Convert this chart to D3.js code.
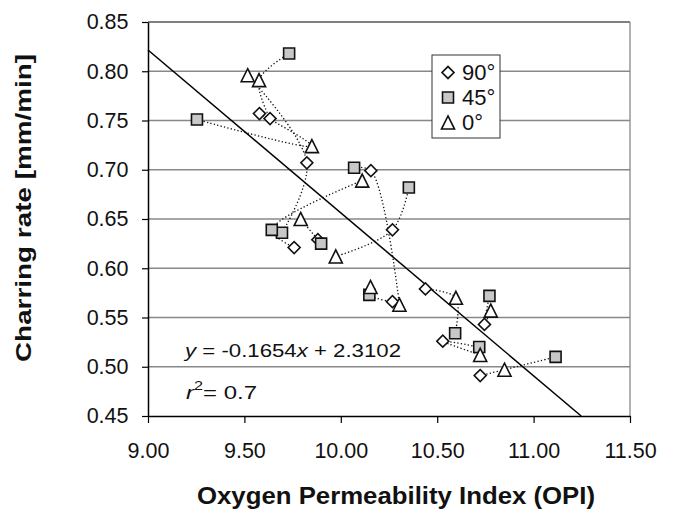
<!DOCTYPE html>
<html>
<head>
<meta charset="utf-8">
<script src="https://cdn.jsdelivr.net/npm/d3@7"></script>
<style>
  body { margin: 0; background: #fff; }
  svg { display: block; font-family: "Liberation Sans", Arial, Helvetica, sans-serif; }
</style>
</head>
<body>
<div id="chart"></div>
<script>
// charring rate vs OPI - one triple of points per sample (90°, 45°, 0°)
const opi90  = [9.633, 9.578, 9.824, 10.156, 9.758, 10.268, 9.881, 10.268, 10.439, 10.745, 10.529, 10.723];
const rate90 = [0.752, 0.757, 0.707, 0.699, 0.621, 0.639, 0.629, 0.566, 0.579, 0.543, 0.526, 0.491];
const opi45  = [9.732, 9.254, 9.695, 10.069, 9.642, 10.353, 9.898, 10.148, 10.593, 10.771, 10.718, 11.114];
const rate45 = [0.818, 0.751, 0.636, 0.702, 0.639, 0.682, 0.625, 0.573, 0.534, 0.572, 0.520, 0.510];
const opi0   = [9.576, 9.850, 9.517, 10.304, 10.111, 9.974, 9.792, 10.154, 10.597, 10.778, 10.723, 10.849];
const rate0  = [0.791, 0.724, 0.796, 0.563, 0.689, 0.612, 0.650, 0.581, 0.570, 0.557, 0.512, 0.497];

// order in which the dotted line joins the three angles of each sample
const linkOrder = [
    ["45", "0", "90"], ["45", "0", "90"], ["0", "90", "45"], ["45", "90", "0"],
    ["0", "45", "90"], ["45", "90", "0"], ["0", "90", "45"], ["0", "45", "90"],
    ["90", "0", "45"], ["45", "90", "0"], ["45", "90", "0"], ["45", "0", "90"]
];

const xTicks = [9.00, 9.50, 10.00, 10.50, 11.00, 11.50];
const yTicks = [0.45, 0.50, 0.55, 0.60, 0.65, 0.70, 0.75, 0.80, 0.85];
const legendLabels = ["90°", "45°", "0°"];

// linear fit shown on the chart
const slope = -0.1654;
const intercept = 2.3102;
const rSquared = 0.7;

const width = 675;
const height = 511;
const plot = { left: 148, right: 630, top: 22, bottom: 416 };

const svg = d3.select("#chart").append("svg")
    .attr("width", width)
    .attr("height", height);

const x = d3.scaleLinear().domain([9, 11.5]).range([plot.left, plot.right]);
const y = d3.scaleLinear().domain([0.45, 0.85]).range([plot.bottom, plot.top]);

// horizontal gridlines
svg.append("g")
    .selectAll("line")
    .data(yTicks.filter(d => d > 0.45))
    .enter().append("line")
    .attr("x1", plot.left).attr("x2", plot.right)
    .attr("y1", d => y(d)).attr("y2", d => y(d))
    .attr("stroke", d => d === 0.85 ? "#555" : "#888")
    .attr("stroke-width", 1.3);

// right border of plot area
svg.append("line")
    .attr("x1", plot.right).attr("x2", plot.right)
    .attr("y1", plot.top).attr("y2", plot.bottom)
    .attr("stroke", "#888")
    .attr("stroke-width", 1.3);

// axes
const yAxis = svg.append("g")
    .attr("transform", "translate(" + plot.left + ",0)")
    .call(d3.axisLeft(y).tickValues(yTicks).tickFormat(d3.format(".2f"))
        .tickSize(6).tickSizeOuter(0).tickPadding(13.5));

const xAxis = svg.append("g")
    .attr("transform", "translate(0," + plot.bottom + ")")
    .call(d3.axisBottom(x).tickValues(xTicks).tickFormat(d3.format(".2f"))
        .tickSize(7).tickSizeOuter(0).tickPadding(20));

[yAxis, xAxis].forEach(function (ax) {
    ax.attr("font-family", null).attr("font-size", null);
    ax.select(".domain").attr("stroke", "#000").attr("stroke-width", 1.5);
    ax.selectAll(".tick line").attr("stroke", "#000").attr("stroke-width", 1.2);
    ax.selectAll(".tick text").style("font-size", "21.5px").attr("fill", "#111");
});

// dotted lines joining the angles of one sample
const lookup = { "90": [opi90, rate90], "45": [opi45, rate45], "0": [opi0, rate0] };
const link = d3.line()
    .x(d => x(d[0]))
    .y(d => y(d[1]))
    .curve(d3.curveCatmullRom);

svg.append("g")
    .selectAll("path")
    .data(linkOrder.map((order, i) => order.map(a => [lookup[a][0][i], lookup[a][1][i]])))
    .enter().append("path")
    .attr("d", link)
    .attr("fill", "none")
    .attr("stroke", "#111")
    .attr("stroke-width", 1.3)
    .attr("stroke-dasharray", "1.3,2.2");

// regression line, clipped at the bottom of the axis
const xEnd = (0.45 - intercept) / slope;
svg.append("line")
    .attr("x1", x(9)).attr("y1", y(slope * 9 + intercept))
    .attr("x2", x(xEnd)).attr("y2", y(0.45))
    .attr("stroke", "#000")
    .attr("stroke-width", 1.5);

// markers
const triangleType = {
    draw: function (ctx, size) {
        const h = Math.sqrt(size) / 2;
        ctx.moveTo(0, -h);
        ctx.lineTo(h, h);
        ctx.lineTo(-h, h);
        ctx.closePath();
    }
};
const markerPath = {
    "90": d3.symbol(d3.symbolSquare, 72)(),
    "45": d3.symbol(d3.symbolSquare, 121)(),
    "0": d3.symbol(triangleType, 170)()
};
const markerStyle = {
    "90": { fill: "#fff", rotate: 45 },
    "45": { fill: "#c8c8c8", rotate: 0 },
    "0": { fill: "#fff", rotate: 0 }
};

["90", "45", "0"].forEach(function (a) {
    const pts = lookup[a][0].map((v, i) => [v, lookup[a][1][i]]);
    svg.append("g")
        .selectAll("path")
        .data(pts)
        .enter().append("path")
        .attr("d", markerPath[a])
        .attr("transform", d => "translate(" + x(d[0]) + "," + y(d[1]) + ") rotate(" + markerStyle[a].rotate + ")")
        .attr("fill", markerStyle[a].fill)
        .attr("stroke", "#111")
        .attr("stroke-width", 1.6);
});

// legend
const legend = svg.append("g").attr("transform", "translate(432,55)");
legend.append("rect")
    .attr("width", 68).attr("height", 83)
    .attr("fill", "#fff")
    .attr("stroke", "#333")
    .attr("stroke-width", 1);
const legendItem = legend.selectAll("g.item")
    .data(["90", "45", "0"])
    .enter().append("g")
    .attr("class", "item")
    .attr("transform", (d, i) => "translate(16," + (17.5 + i * 25) + ")");
legendItem.append("path")
    .attr("d", d => markerPath[d])
    .attr("transform", d => "rotate(" + markerStyle[d].rotate + ")")
    .attr("fill", d => markerStyle[d].fill)
    .attr("stroke", "#111")
    .attr("stroke-width", 1.6);
legendItem.append("text")
    .attr("x", 14)
    .attr("y", 7.5)
    .style("font-size", "22px")
    .attr("fill", "#111")
    .text((d, i) => legendLabels[i]);

// equation and r squared
const eq = svg.append("text")
    .attr("x", 185).attr("y", 357)
    .attr("textLength", 216)
    .attr("lengthAdjust", "spacingAndGlyphs")
    .style("font-size", "17.5px")
    .attr("fill", "#111");
eq.append("tspan").style("font-style", "italic").text("y");
eq.append("tspan").text(" = " + slope.toFixed(4));
eq.append("tspan").style("font-style", "italic").text("x");
eq.append("tspan").text(" + " + intercept.toFixed(4));

const r2 = svg.append("text")
    .attr("x", 186).attr("y", 399)
    .attr("textLength", 71)
    .attr("lengthAdjust", "spacingAndGlyphs")
    .style("font-size", "18.5px")
    .attr("fill", "#111");
r2.append("tspan").style("font-style", "italic").text("r");
r2.append("tspan").attr("dy", -9).style("font-size", "12.5px").text("2");
r2.append("tspan").attr("dy", 9).text("= " + rSquared);

// axis titles
svg.append("text")
    .attr("x", (plot.left + plot.right) / 2 + 7)
    .attr("y", 504)
    .attr("text-anchor", "middle")
    .attr("textLength", 398)
    .attr("lengthAdjust", "spacingAndGlyphs")
    .style("font-size", "24px")
    .style("font-weight", "bold")
    .attr("fill", "#111")
    .text("Oxygen Permeability Index (OPI)");

svg.append("text")
    .attr("transform", "translate(31,208) rotate(-90)")
    .attr("text-anchor", "middle")
    .attr("textLength", 308)
    .attr("lengthAdjust", "spacingAndGlyphs")
    .style("font-size", "22px")
    .style("font-weight", "bold")
    .attr("fill", "#111")
    .text("Charring rate [mm/min]");
</script>
</body>
</html>
